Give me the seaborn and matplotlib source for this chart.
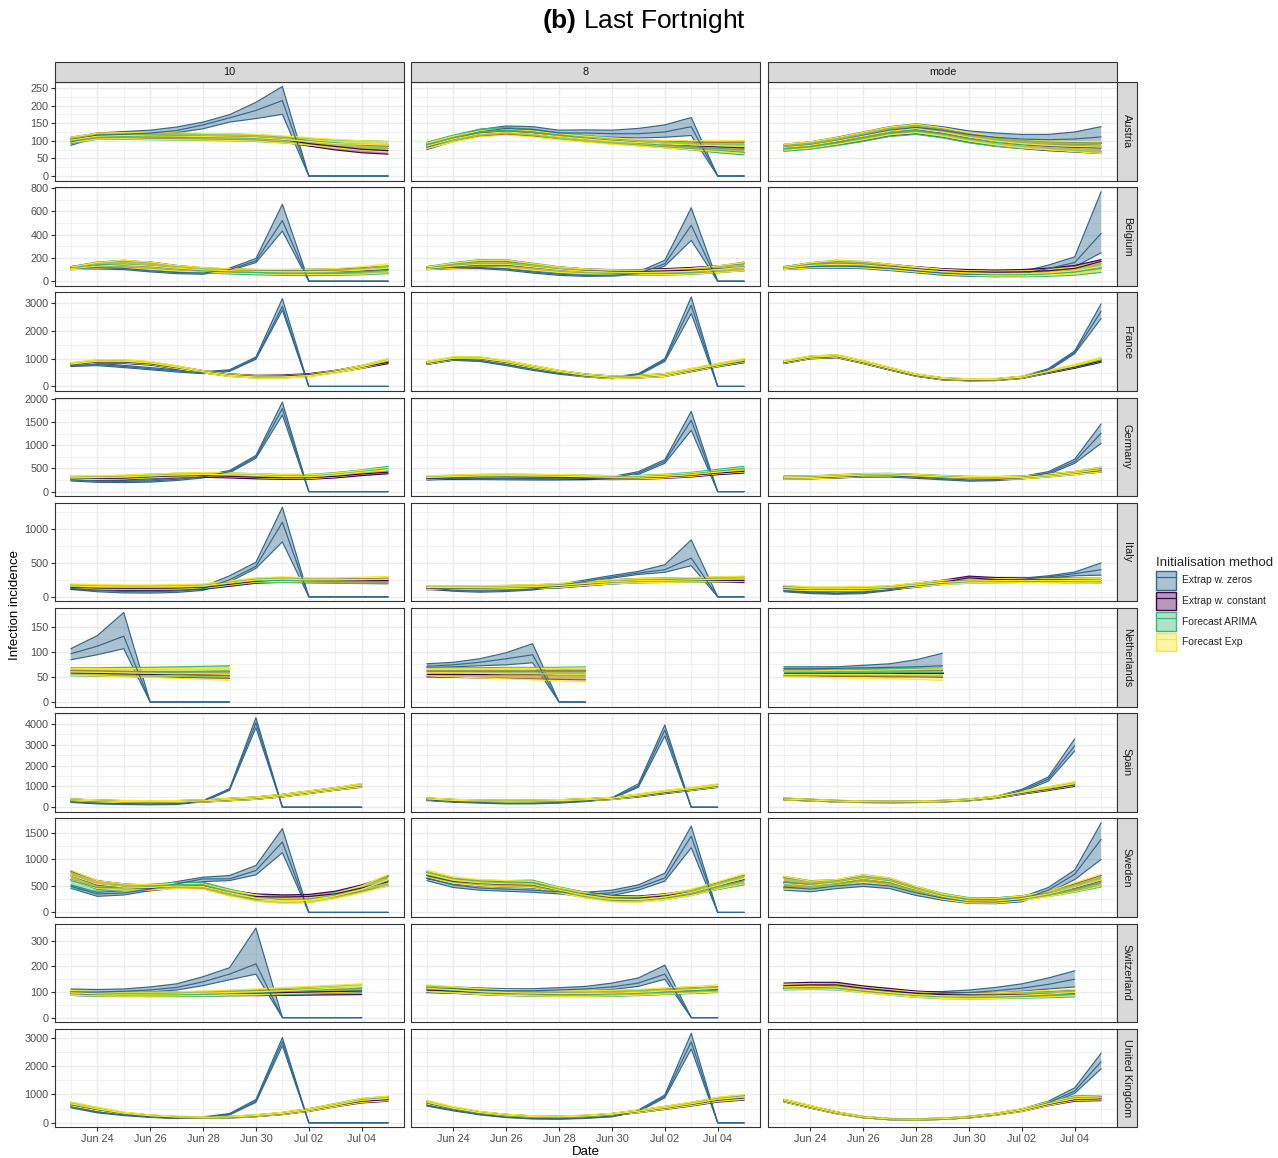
import numpy as np
import pandas as pd
import matplotlib
matplotlib.use("Agg")
import matplotlib.pyplot as plt
import matplotlib.dates as mdates
from matplotlib.ticker import MultipleLocator
from matplotlib.patches import Patch, Rectangle
from matplotlib.lines import Line2D
from matplotlib.colors import to_rgba
import seaborn as sns

# ---------------- data ----------------
DATES = ["2020-06-23", "2020-06-24", "2020-06-25", "2020-06-26", "2020-06-27",
         "2020-06-28", "2020-06-29", "2020-06-30", "2020-07-01", "2020-07-02",
         "2020-07-03", "2020-07-04", "2020-07-05"]
COUNTRIES = ["Austria", "Belgium", "France", "Germany", "Italy", "Netherlands",
             "Spain", "Sweden", "Switzerland", "United Kingdom"]
CODES = ["AT", "BE", "FR", "DE", "IT", "NL", "ES", "SE", "CH", "UK"]
TRUNCS = ["10", "8", "mode"]
TRUNC_CODES = ["T10", "T8", "TM"]
METHODS = ["Extrap w. zeros", "Extrap w. constant", "Forecast ARIMA", "Forecast Exp"]
METHOD_CODES = ["Z", "C", "A", "E"]
COLORS = ["#31688E", "#440154", "#35B779", "#FDE725"]
Y_STEPS = [50, 200, 1000, 500, 500, 50, 1000, 500, 100, 1000]

# Austria
AT_T10_Z_LO = [87,110,112,117,123,134,153,163,175,0,0,0,0]
AT_T10_Z_MD = [97,116,118,122,129,145,165,186,214,0,0,0,0]
AT_T10_Z_HI = [107,122,126,130,139,153,174,209,254,0,0,0,0]
AT_T10_C_LO = [97,107,108,106,105,104,103,101,96,85,74,66,62]
AT_T10_C_MD = [103,114,115,114,113,112,111,109,104,92,84,76,72]
AT_T10_C_HI = [110,121,122,122,121,120,119,117,112,100,94,88,84]
AT_T10_A_LO = [92,104,104,103,102,101,100,98,94,88,84,80,78]
AT_T10_A_MD = [100,112,112,111,110,110,109,107,103,97,93,90,88]
AT_T10_A_HI = [108,120,120,119,118,118,118,116,112,106,102,100,98]
AT_T10_E_LO = [95,105,106,104,103,102,101,99,94,88,80,74,68]
AT_T10_E_MD = [102,113,115,114,113,112,111,109,104,98,92,90,88]
AT_T10_E_HI = [110,122,123,123,122,121,120,118,114,109,104,100,98]
AT_T8_Z_LO = [75,98,118,128,125,115,113,110,108,110,115,0,0]
AT_T8_Z_MD = [82,105,125,135,132,122,122,120,120,125,140,0,0]
AT_T8_Z_HI = [90,112,132,142,140,130,131,130,135,145,166,0,0]
AT_T8_C_LO = [80,99,113,118,113,105,98,92,87,82,77,72,67]
AT_T8_C_MD = [86,106,121,126,121,113,106,100,95,90,86,83,80]
AT_T8_C_HI = [92,112,127,132,127,119,112,107,103,99,97,96,96]
AT_T8_A_LO = [80,100,116,122,117,107,99,92,86,80,74,66,60]
AT_T8_A_MD = [88,108,125,130,125,115,107,100,94,88,83,78,75]
AT_T8_A_HI = [96,116,133,138,133,123,115,108,103,97,93,90,90]
AT_T8_E_LO = [78,97,111,116,111,103,96,90,85,80,75,70,64]
AT_T8_E_MD = [85,105,120,125,120,112,105,99,95,91,88,86,84]
AT_T8_E_HI = [93,113,128,133,128,120,113,108,104,101,100,100,101]
AT_TM_Z_LO = [75,80,92,105,120,128,120,108,98,92,88,88,92]
AT_TM_Z_MD = [82,88,100,115,130,138,130,118,110,105,103,105,111]
AT_TM_Z_HI = [90,97,110,125,140,148,140,128,122,118,118,125,140]
AT_TM_C_LO = [72,78,88,100,114,120,110,96,85,78,72,68,64]
AT_TM_C_MD = [80,86,98,112,126,132,122,108,97,90,85,82,80]
AT_TM_C_HI = [88,95,108,122,136,144,134,120,110,103,98,96,96]
AT_TM_A_LO = [70,76,86,98,112,118,108,94,84,78,74,72,70]
AT_TM_A_MD = [78,84,95,110,124,130,120,106,96,90,86,84,83]
AT_TM_A_HI = [88,95,106,121,136,143,133,119,109,103,99,98,97]
AT_TM_E_LO = [73,79,90,103,117,123,113,99,88,80,74,69,64]
AT_TM_E_MD = [81,87,99,113,127,134,124,110,99,92,87,84,82]
AT_TM_E_HI = [90,97,109,124,139,147,137,123,112,105,100,98,98]

# Belgium
BE_T10_Z_LO = [100,105,100,80,65,60,90,160,430,0,0,0,0]
BE_T10_Z_MD = [110,115,110,90,75,70,100,175,520,0,0,0,0]
BE_T10_Z_HI = [120,125,120,100,85,80,112,195,660,0,0,0,0]
BE_T10_C_LO = [100,115,115,105,90,78,72,68,65,63,62,65,70]
BE_T10_C_MD = [110,135,140,130,110,95,88,85,85,85,85,90,100]
BE_T10_C_HI = [125,160,175,165,135,115,105,100,100,102,105,115,130]
BE_T10_A_LO = [100,115,115,100,85,72,62,55,50,48,50,55,65]
BE_T10_A_MD = [112,140,145,130,108,92,82,75,70,68,70,80,95]
BE_T10_A_HI = [125,165,180,160,130,112,100,95,92,92,95,110,130]
BE_T10_E_LO = [98,110,112,102,88,78,70,65,60,58,58,62,72]
BE_T10_E_MD = [108,130,140,130,112,98,90,85,82,82,85,95,110]
BE_T10_E_HI = [122,160,180,165,135,118,108,102,100,102,108,125,150]
BE_T8_Z_LO = [100,108,108,95,70,50,42,44,55,130,350,0,0]
BE_T8_Z_MD = [110,118,118,105,80,60,50,52,65,150,480,0,0]
BE_T8_Z_HI = [120,128,128,115,90,70,60,62,80,180,630,0,0]
BE_T8_C_LO = [100,112,115,112,95,78,68,62,60,62,68,78,90]
BE_T8_C_MD = [112,130,140,140,120,100,88,82,82,88,95,105,120]
BE_T8_C_HI = [125,150,170,170,145,122,105,100,100,108,118,132,150]
BE_T8_A_LO = [100,115,120,118,95,75,62,55,50,52,58,72,92]
BE_T8_A_MD = [112,135,150,150,125,100,85,75,70,72,80,100,125]
BE_T8_A_HI = [125,160,185,185,155,125,105,95,92,95,105,130,165]
BE_T8_E_LO = [100,112,118,115,95,76,64,58,55,56,62,75,90]
BE_T8_E_MD = [110,130,145,145,122,100,85,78,75,78,85,100,120]
BE_T8_E_HI = [122,155,180,182,150,122,105,98,96,100,110,132,160]
BE_TM_Z_LO = [100,110,112,108,92,72,52,42,40,45,89,123,244]
BE_TM_Z_MD = [110,125,130,125,110,90,70,60,58,62,109,160,410]
BE_TM_Z_HI = [122,145,155,148,130,108,88,78,76,82,138,209,768]
BE_TM_C_LO = [100,118,122,118,105,85,70,62,58,58,65,80,120]
BE_TM_C_MD = [110,135,145,140,125,105,90,82,78,80,90,110,170]
BE_TM_C_HI = [125,155,170,165,145,125,108,100,96,100,112,135,185]
BE_TM_A_LO = [100,118,122,115,98,78,58,45,38,38,42,52,75]
BE_TM_A_MD = [112,140,150,140,120,100,80,65,58,58,65,80,110]
BE_TM_A_HI = [125,160,180,170,145,122,100,88,80,82,92,110,150]
BE_TM_E_LO = [100,115,120,115,100,80,62,50,45,45,50,62,90]
BE_TM_E_MD = [110,135,145,140,122,100,82,70,65,65,72,90,125]
BE_TM_E_HI = [122,158,178,170,145,122,102,90,85,88,98,120,165]

# France
FR_T10_Z_LO = [720,750,680,600,520,460,540,980,2750,0,0,0,0]
FR_T10_Z_MD = [760,790,720,640,560,490,570,1020,2890,0,0,0,0]
FR_T10_Z_HI = [800,830,760,680,600,530,600,1060,3166,0,0,0,0]
FR_T10_C_LO = [740,830,830,770,630,490,370,320,330,380,500,650,820]
FR_T10_C_MD = [790,880,880,820,680,530,410,360,370,420,540,700,870]
FR_T10_C_HI = [840,930,930,870,730,570,450,400,410,460,580,750,920]
FR_T10_A_LO = [750,850,850,790,640,490,360,300,305,355,490,660,870]
FR_T10_A_MD = [800,900,900,840,690,530,400,340,345,395,530,710,930]
FR_T10_A_HI = [850,950,950,890,740,570,440,380,385,435,570,760,990]
FR_T10_E_LO = [760,860,860,800,650,490,360,300,300,350,485,660,880]
FR_T10_E_MD = [810,910,910,850,700,530,400,340,340,390,525,710,940]
FR_T10_E_HI = [860,960,960,900,750,570,440,380,380,430,565,760,1000]
FR_T8_Z_LO = [810,940,900,750,580,440,340,285,400,900,2630,0,0]
FR_T8_Z_MD = [850,980,940,790,620,470,370,310,430,950,2930,0,0]
FR_T8_Z_HI = [890,1020,980,830,660,500,400,335,460,1000,3230,0,0]
FR_T8_C_LO = [790,950,950,820,650,485,355,285,305,360,530,705,855]
FR_T8_C_MD = [840,1000,1000,870,700,530,400,330,350,410,580,760,910]
FR_T8_C_HI = [890,1050,1050,920,750,575,445,375,395,460,630,815,965]
FR_T8_A_LO = [800,960,960,830,650,485,355,285,305,360,540,715,875]
FR_T8_A_MD = [850,1010,1010,880,700,530,400,330,350,410,590,770,930]
FR_T8_A_HI = [900,1060,1060,930,750,575,445,375,395,460,640,825,985]
FR_T8_E_LO = [810,970,970,840,660,495,355,285,305,365,550,725,890]
FR_T8_E_MD = [860,1020,1020,890,710,540,400,330,350,415,600,780,950]
FR_T8_E_HI = [910,1070,1070,940,760,585,445,375,395,465,650,835,1010]
FR_TM_Z_LO = [840,1010,1050,840,600,380,250,215,225,300,560,1180,2450]
FR_TM_Z_MD = [880,1050,1090,880,640,410,280,240,250,330,600,1230,2710]
FR_TM_Z_HI = [920,1090,1130,920,680,440,310,265,275,360,640,1280,2980]
FR_TM_C_LO = [825,995,1035,825,590,365,235,200,210,285,470,655,870]
FR_TM_C_MD = [870,1040,1080,870,630,400,270,230,240,320,510,700,920]
FR_TM_C_HI = [915,1085,1125,915,670,435,305,260,270,355,550,745,970]
FR_TM_A_LO = [835,1005,1045,835,600,375,245,210,220,295,490,685,905]
FR_TM_A_MD = [880,1050,1090,880,640,410,280,240,250,330,530,730,960]
FR_TM_A_HI = [925,1095,1135,925,680,445,315,270,280,365,570,775,1015]
FR_TM_E_LO = [845,1015,1055,845,610,385,250,215,225,300,500,705,945]
FR_TM_E_MD = [890,1060,1100,890,650,420,285,245,255,335,540,750,1000]
FR_TM_E_HI = [935,1105,1145,935,690,455,320,275,285,370,580,795,1055]

# Germany
DE_T10_Z_LO = [230,200,195,205,240,295,405,720,1650,0,0,0,0]
DE_T10_Z_MD = [255,225,220,230,265,320,430,750,1790,0,0,0,0]
DE_T10_Z_HI = [280,250,245,255,290,345,455,780,1930,0,0,0,0]
DE_T10_C_LO = [245,250,255,285,305,310,295,275,265,265,295,345,385]
DE_T10_C_MD = [280,285,290,320,340,345,330,310,300,300,330,380,420]
DE_T10_C_HI = [315,320,325,355,375,380,365,345,335,335,365,415,455]
DE_T10_A_LO = [250,260,270,295,315,325,325,305,290,290,330,390,455]
DE_T10_A_MD = [290,300,310,335,355,365,365,345,330,330,370,430,500]
DE_T10_A_HI = [330,340,350,375,395,405,405,385,370,370,410,470,545]
DE_T10_E_LO = [255,265,275,300,320,330,325,305,285,280,320,380,425]
DE_T10_E_MD = [295,305,315,340,360,370,365,345,325,320,360,420,470]
DE_T10_E_HI = [335,345,355,380,400,410,405,385,365,360,400,460,515]
DE_T8_Z_LO = [255,260,260,255,250,250,255,275,370,610,1320,0,0]
DE_T8_Z_MD = [280,285,285,280,275,275,280,300,400,650,1540,0,0]
DE_T8_Z_HI = [305,310,310,305,300,300,305,325,430,690,1730,0,0]
DE_T8_C_LO = [255,275,285,285,280,275,265,260,265,285,315,365,400]
DE_T8_C_MD = [290,310,320,320,315,310,300,295,300,320,350,400,440]
DE_T8_C_HI = [325,345,355,355,350,345,335,330,335,355,385,435,480]
DE_T8_A_LO = [265,285,300,305,300,295,285,275,280,305,345,400,455]
DE_T8_A_MD = [300,320,335,340,335,330,320,310,315,340,380,440,500]
DE_T8_A_HI = [335,355,370,375,370,365,355,345,350,375,415,480,545]
DE_T8_E_LO = [270,290,305,310,305,297,285,275,275,295,330,385,425]
DE_T8_E_MD = [305,325,340,345,340,332,320,310,310,330,365,420,470]
DE_T8_E_HI = [340,360,375,380,375,367,355,345,345,365,400,455,515]
DE_TM_Z_LO = [280,280,295,315,315,285,255,225,235,275,370,610,1040]
DE_TM_Z_MD = [305,305,320,340,340,310,280,250,260,300,400,650,1260]
DE_TM_Z_HI = [330,330,345,365,365,335,305,275,285,325,430,700,1460]
DE_TM_C_LO = [270,275,295,320,325,305,280,260,260,275,320,370,420]
DE_TM_C_MD = [300,305,325,350,355,335,310,290,290,305,350,400,460]
DE_TM_C_HI = [330,335,355,380,385,365,340,320,320,335,380,430,500]
DE_TM_A_LO = [270,280,305,330,335,315,290,270,265,275,315,365,430]
DE_TM_A_MD = [300,310,335,360,365,345,320,300,295,305,345,400,480]
DE_TM_A_HI = [330,340,365,390,395,375,350,330,325,335,375,435,530]
DE_TM_E_LO = [270,278,300,325,330,310,285,265,262,275,318,368,425]
DE_TM_E_MD = [300,308,330,355,360,340,315,295,292,305,348,402,475]
DE_TM_E_HI = [330,338,360,385,390,370,345,325,322,335,378,436,525]

# Italy
IT_T10_Z_LO = [110,75,58,55,65,95,220,420,810,0,0,0,0]
IT_T10_Z_MD = [125,95,78,75,85,120,250,450,1100,0,0,0,0]
IT_T10_Z_HI = [140,115,100,98,110,150,310,510,1320,0,0,0,0]
IT_T10_C_LO = [110,100,95,95,100,110,155,200,215,210,205,205,205]
IT_T10_C_MD = [140,130,125,125,130,140,185,230,250,240,235,235,240]
IT_T10_C_HI = [170,160,155,155,160,170,215,260,285,270,265,265,275]
IT_T10_A_LO = [120,110,105,105,110,120,170,210,210,205,200,195,190]
IT_T10_A_MD = [150,140,135,135,140,150,200,240,245,235,230,225,225]
IT_T10_A_HI = [180,170,165,165,170,180,230,270,280,265,260,255,260]
IT_T10_E_LO = [130,120,115,115,120,130,175,220,225,220,220,220,220]
IT_T10_E_MD = [160,150,145,145,150,160,205,250,260,250,250,255,260]
IT_T10_E_HI = [190,180,175,175,180,190,235,280,295,280,280,290,300]
IT_T8_Z_LO = [115,82,68,78,100,150,210,275,330,361,459,0,0]
IT_T8_Z_MD = [132,98,83,93,117,166,229,293,351,400,571,0,0]
IT_T8_Z_HI = [150,115,100,110,135,185,250,315,375,473,839,0,0]
IT_T8_C_LO = [105,105,108,112,118,130,160,190,210,215,220,215,210]
IT_T8_C_MD = [130,130,133,138,145,160,190,220,240,245,250,245,240]
IT_T8_C_HI = [155,155,158,165,172,190,220,250,270,275,280,278,275]
IT_T8_A_LO = [110,110,112,116,122,135,165,190,205,210,215,220,225]
IT_T8_A_MD = [135,135,137,141,148,165,195,220,235,240,248,255,262]
IT_T8_A_HI = [160,160,162,168,175,195,225,250,265,272,282,292,300]
IT_T8_E_LO = [112,112,114,118,124,138,168,193,208,213,218,222,228]
IT_T8_E_MD = [137,137,139,143,150,168,198,223,238,243,251,258,266]
IT_T8_E_HI = [162,162,164,170,178,198,228,253,268,275,285,295,305]
IT_TM_Z_LO = [75,48,38,48,92,150,192,222,235,246,278,310,320]
IT_TM_Z_MD = [88,59,47,59,106,165,206,235,247,259,294,341,400]
IT_TM_Z_HI = [100,70,58,70,120,180,220,250,262,272,310,365,500]
IT_TM_C_LO = [100,85,85,90,105,140,185,250,225,225,225,215,210]
IT_TM_C_MD = [125,110,110,115,130,170,215,280,255,255,255,245,240]
IT_TM_C_HI = [155,135,135,140,155,200,245,305,285,285,285,275,272]
IT_TM_A_LO = [105,90,90,95,110,145,180,200,205,210,210,205,205]
IT_TM_A_MD = [135,115,115,120,135,172,210,230,235,240,240,237,238]
IT_TM_A_HI = [165,140,140,145,160,200,240,260,265,270,270,270,272]
IT_TM_E_LO = [108,92,92,97,112,147,182,202,207,212,212,207,207]
IT_TM_E_MD = [138,118,118,123,138,175,213,233,238,243,243,240,240]
IT_TM_E_HI = [170,145,145,150,165,203,243,263,268,273,273,273,275]

# Netherlands
NL_T10_Z_LO = [84,94,106,0,0,0,0]
NL_T10_Z_MD = [96,111,131,0,0,0,0]
NL_T10_Z_HI = [106,132,178,0,0,0,0]
NL_T10_C_LO = [53,52,51,50,49,48,47]
NL_T10_C_MD = [58,57,56,55,55,54,54]
NL_T10_C_HI = [63,62,61,60,60,60,60]
NL_T10_A_LO = [52,52,51,51,51,51,51]
NL_T10_A_MD = [60,60,60,60,60,61,62]
NL_T10_A_HI = [68,68,69,69,70,71,72]
NL_T10_E_LO = [53,52,50,49,47,45,43]
NL_T10_E_MD = [60,59,58,57,56,56,55]
NL_T10_E_HI = [67,67,67,67,67,67,67]
NL_T8_Z_LO = [68,70,72,74,78,0,0]
NL_T8_Z_MD = [71,74,79,86,94,0,0]
NL_T8_Z_HI = [76,79,86,98,116,0,0]
NL_T8_C_LO = [50,49,48,47,46,45,44]
NL_T8_C_MD = [55,55,55,55,55,55,55]
NL_T8_C_HI = [62,62,62,62,62,63,63]
NL_T8_A_LO = [55,55,54,54,53,53,52]
NL_T8_A_MD = [62,62,62,62,62,62,62]
NL_T8_A_HI = [68,68,68,69,69,69,70]
NL_T8_E_LO = [52,50,48,46,44,42,40]
NL_T8_E_MD = [58,58,57,56,56,55,55]
NL_T8_E_HI = [66,66,66,67,67,67,68]
NL_TM_Z_LO = [63,63,63,64,64,65,66]
NL_TM_Z_MD = [66,66,67,68,69,70,72]
NL_TM_Z_HI = [70,70,70,73,76,84,97]
NL_TM_C_LO = [52,52,51,51,50,50,49]
NL_TM_C_MD = [57,57,57,57,57,57,57]
NL_TM_C_HI = [62,62,62,62,62,62,63]
NL_TM_A_LO = [54,54,54,54,53,53,53]
NL_TM_A_MD = [60,60,60,60,60,60,60]
NL_TM_A_HI = [66,66,66,66,67,67,67]
NL_TM_E_LO = [50,49,48,47,46,45,43]
NL_TM_E_MD = [55,55,55,55,55,54,54]
NL_TM_E_HI = [62,62,63,63,64,65,66]

# Spain
ES_T10_Z_LO = [230,160,130,115,130,260,810,3820,0,0,0,0]
ES_T10_Z_MD = [260,190,160,145,160,290,850,4060,0,0,0,0]
ES_T10_Z_HI = [290,220,190,175,190,320,890,4300,0,0,0,0]
ES_T10_C_LO = [290,245,215,205,215,245,310,380,495,655,815,960]
ES_T10_C_MD = [340,295,265,255,265,295,365,435,555,715,875,1040]
ES_T10_C_HI = [390,345,315,305,315,345,420,490,615,775,935,1120]
ES_T10_A_LO = [295,250,220,210,220,250,315,385,500,660,820,970]
ES_T10_A_MD = [345,300,270,260,270,300,370,440,560,720,880,1050]
ES_T10_A_HI = [395,350,320,310,320,350,425,495,620,780,940,1130]
ES_T10_E_LO = [300,255,225,215,225,255,320,390,505,665,825,980]
ES_T10_E_MD = [350,305,275,265,275,305,375,445,565,725,885,1060]
ES_T10_E_HI = [400,355,325,315,325,355,430,500,625,785,945,1140]
ES_T8_Z_LO = [320,240,195,160,160,195,270,400,960,3420,0,0]
ES_T8_Z_MD = [350,270,225,190,190,225,300,430,1020,3710,0,0]
ES_T8_Z_HI = [380,300,255,220,220,255,330,460,1120,3950,0,0]
ES_T8_C_LO = [340,270,240,230,235,255,300,370,490,650,800,950]
ES_T8_C_MD = [390,320,290,280,285,305,350,420,550,710,860,1020]
ES_T8_C_HI = [440,370,340,330,335,355,400,470,610,770,920,1090]
ES_T8_A_LO = [345,275,245,235,240,260,305,375,510,670,810,960]
ES_T8_A_MD = [395,325,295,285,290,310,355,425,570,730,870,1030]
ES_T8_A_HI = [445,375,345,335,340,360,405,475,630,790,930,1100]
ES_T8_E_LO = [350,280,250,240,245,265,310,380,520,690,830,980]
ES_T8_E_MD = [400,330,300,290,295,315,360,430,580,750,890,1050]
ES_T8_E_HI = [450,380,350,340,345,365,410,480,640,810,950,1120]
ES_TM_Z_LO = [360,310,265,235,225,235,265,320,440,740,1250,2700]
ES_TM_Z_MD = [390,340,290,260,250,260,290,350,480,800,1350,2950]
ES_TM_Z_HI = [420,370,320,285,275,285,315,380,520,860,1450,3280]
ES_TM_C_LO = [350,300,255,225,215,225,255,310,420,620,800,1000]
ES_TM_C_MD = [390,340,290,260,250,260,290,350,470,680,870,1080]
ES_TM_C_HI = [430,380,325,295,285,295,325,390,520,740,940,1160]
ES_TM_A_LO = [355,305,260,230,220,230,260,315,430,640,830,1040]
ES_TM_A_MD = [395,345,295,265,255,265,295,355,480,700,900,1120]
ES_TM_A_HI = [435,385,330,300,290,300,330,395,530,760,970,1200]
ES_TM_E_LO = [355,305,260,230,220,230,260,320,440,660,850,1060]
ES_TM_E_MD = [395,345,295,265,255,265,295,360,490,720,920,1140]
ES_TM_E_HI = [435,385,330,300,290,300,330,400,540,780,990,1220]

# Sweden
SE_T10_Z_LO = [456,304,329,411,494,582,601,709,1127,0,0,0,0]
SE_T10_Z_MD = [494,348,367,443,538,633,633,791,1329,0,0,0,0]
SE_T10_Z_HI = [519,380,411,494,582,665,696,886,1582,0,0,0,0]
SE_T10_C_LO = [620,440,420,410,460,450,320,250,250,260,300,400,500]
SE_T10_C_MD = [700,520,480,460,510,500,370,300,290,300,350,460,580]
SE_T10_C_HI = [780,600,540,510,560,550,420,350,330,340,400,520,680]
SE_T10_A_LO = [450,400,420,430,470,470,330,220,180,190,270,380,510]
SE_T10_A_MD = [600,470,470,480,520,520,390,280,230,240,320,440,600]
SE_T10_A_HI = [750,540,520,530,570,570,440,330,280,290,370,500,700]
SE_T10_E_LO = [610,450,420,420,450,440,310,210,170,180,260,370,500]
SE_T10_E_MD = [700,530,480,470,500,490,370,270,220,230,310,430,620]
SE_T10_E_HI = [800,600,540,520,550,540,420,330,270,280,360,500,720]
SE_T8_Z_LO = [600,470,420,400,380,350,300,320,420,590,1220,0,0]
SE_T8_Z_MD = [650,520,460,440,420,390,340,370,470,650,1440,0,0]
SE_T8_Z_HI = [710,570,500,480,460,430,380,420,520,740,1630,0,0]
SE_T8_C_LO = [640,540,500,480,470,370,280,220,230,270,340,440,540]
SE_T8_C_MD = [700,590,550,530,520,420,330,270,270,310,380,500,620]
SE_T8_C_HI = [760,640,600,580,570,470,380,320,310,350,420,560,700]
SE_T8_A_LO = [650,550,510,500,500,380,280,210,200,240,320,430,520]
SE_T8_A_MD = [710,600,560,550,560,430,330,260,250,290,370,490,600]
SE_T8_A_HI = [770,650,610,600,610,480,380,310,300,340,420,550,690]
SE_T8_E_LO = [660,550,500,480,470,370,270,200,190,240,320,440,540]
SE_T8_E_MD = [730,610,560,540,530,420,320,250,240,290,380,510,640]
SE_T8_E_HI = [800,670,620,600,590,470,370,300,290,340,440,580,730]
SE_TM_Z_LO = [420,390,450,490,450,320,230,170,165,200,370,620,1000]
SE_TM_Z_MD = [480,440,500,540,500,370,270,210,200,240,420,720,1380]
SE_TM_Z_HI = [560,500,560,600,560,420,310,250,240,290,470,800,1690]
SE_TM_C_LO = [460,450,510,580,520,380,260,190,190,230,310,400,500]
SE_TM_C_MD = [560,520,560,640,580,430,300,230,230,270,350,460,600]
SE_TM_C_HI = [660,590,610,700,640,480,350,270,270,310,400,540,700]
SE_TM_A_LO = [470,460,520,590,530,390,270,200,195,235,300,380,480]
SE_TM_A_MD = [580,530,570,650,590,440,310,240,235,275,340,440,560]
SE_TM_A_HI = [680,600,620,710,650,490,360,280,275,315,390,510,660]
SE_TM_E_LO = [440,440,500,570,510,370,250,180,175,220,300,390,500]
SE_TM_E_MD = [550,510,560,640,580,430,300,220,215,260,350,470,610]
SE_TM_E_HI = [680,590,620,710,650,490,350,270,265,310,400,560,720]

# Switzerland
CH_T10_Z_LO = [95,93,95,100,108,125,148,170,0,0,0,0]
CH_T10_Z_MD = [100,100,103,108,118,140,170,210,0,0,0,0]
CH_T10_Z_HI = [112,110,112,120,132,160,195,350,0,0,0,0]
CH_T10_C_LO = [87,84,84,84,85,86,86,86,87,88,89,90]
CH_T10_C_MD = [95,92,92,92,93,94,95,96,98,100,102,104]
CH_T10_C_HI = [103,100,100,100,101,102,104,106,109,112,115,118]
CH_T10_A_LO = [87,84,82,82,82,83,85,87,90,93,96,99]
CH_T10_A_MD = [95,92,90,90,90,92,95,98,102,106,110,114]
CH_T10_A_HI = [103,100,98,98,98,101,105,109,114,119,124,129]
CH_T10_E_LO = [88,85,84,84,85,86,88,90,93,96,99,102]
CH_T10_E_MD = [97,93,92,92,93,95,98,101,105,110,115,120]
CH_T10_E_HI = [106,101,100,100,101,104,108,112,117,122,127,132]
CH_T8_Z_LO = [108,104,100,98,98,100,104,110,122,150,0,0]
CH_T8_Z_MD = [115,112,108,105,105,108,112,120,135,170,0,0]
CH_T8_Z_HI = [125,120,116,113,113,117,122,135,155,205,0,0]
CH_T8_C_LO = [98,95,90,87,85,84,84,85,88,92,96,100]
CH_T8_C_MD = [108,104,99,96,94,93,93,95,98,102,106,110]
CH_T8_C_HI = [118,113,108,105,103,102,102,105,108,112,116,120]
CH_T8_A_LO = [100,96,90,86,84,82,82,83,86,90,94,98]
CH_T8_A_MD = [112,107,100,96,94,92,92,93,96,100,104,108]
CH_T8_A_HI = [124,118,110,106,104,102,102,103,106,110,115,120]
CH_T8_E_LO = [102,97,91,87,85,83,83,85,88,92,96,100]
CH_T8_E_MD = [115,109,102,98,96,94,94,96,99,104,109,114]
CH_T8_E_HI = [128,121,113,109,107,105,105,107,110,116,122,128]
CH_TM_Z_LO = [112,114,112,102,94,89,88,90,96,103,112,120]
CH_TM_Z_MD = [118,120,118,108,100,95,95,98,105,115,130,150]
CH_TM_Z_HI = [124,126,124,114,106,101,102,108,118,132,155,183]
CH_TM_C_LO = [115,118,118,106,96,87,82,80,80,82,84,87]
CH_TM_C_MD = [125,128,128,115,105,95,90,88,88,90,92,95]
CH_TM_C_HI = [135,138,138,124,114,104,99,97,97,99,102,106]
CH_TM_A_LO = [108,110,108,98,88,79,74,73,74,76,78,81]
CH_TM_A_MD = [118,120,118,108,98,88,83,82,83,85,88,92]
CH_TM_A_HI = [128,130,128,118,108,98,93,92,93,96,100,105]
CH_TM_E_LO = [110,112,110,98,88,80,75,74,75,78,81,86]
CH_TM_E_MD = [120,122,120,108,98,90,85,84,85,88,92,98]
CH_TM_E_HI = [130,132,130,118,108,100,95,95,97,101,106,112]

# United Kingdom
UK_T10_Z_LO = [530,350,255,190,150,170,275,720,2711,0,0,0,0]
UK_T10_Z_MD = [556,378,278,211,167,189,300,767,2856,0,0,0,0]
UK_T10_Z_HI = [590,405,300,235,185,210,325,820,3000,0,0,0,0]
UK_T10_C_LO = [580,420,290,210,170,160,170,215,290,400,560,700,760]
UK_T10_C_MD = [640,470,325,240,195,185,195,245,325,445,610,760,820]
UK_T10_C_HI = [700,520,360,270,220,210,220,275,360,490,660,820,880]
UK_T10_A_LO = [590,425,295,215,175,165,175,220,295,410,580,740,790]
UK_T10_A_MD = [650,480,330,245,200,190,200,250,330,455,630,800,860]
UK_T10_A_HI = [710,535,365,275,225,215,225,280,365,500,680,860,930]
UK_T10_E_LO = [600,430,300,220,180,170,180,225,300,410,570,720,780]
UK_T10_E_MD = [670,490,340,250,205,195,205,255,335,455,620,790,860]
UK_T10_E_HI = [740,550,380,280,230,220,230,285,370,500,670,860,940]
UK_T8_Z_LO = [590,420,280,185,135,125,155,210,390,880,2600,0,0]
UK_T8_Z_MD = [620,450,300,200,150,140,170,230,420,930,2850,0,0]
UK_T8_Z_HI = [650,480,320,215,165,155,185,250,450,980,3150,0,0]
UK_T8_C_LO = [640,450,310,225,180,170,200,255,355,470,590,730,800]
UK_T8_C_MD = [700,500,350,260,210,200,230,290,400,520,650,800,880]
UK_T8_C_HI = [760,550,390,295,240,230,260,325,445,570,710,870,960]
UK_T8_A_LO = [650,455,315,230,185,175,205,260,360,480,605,750,820]
UK_T8_A_MD = [710,505,355,265,215,205,235,295,405,530,665,820,900]
UK_T8_A_HI = [770,555,395,300,245,235,265,330,450,580,725,890,980]
UK_T8_E_LO = [660,460,320,235,190,180,210,265,365,485,610,760,830]
UK_T8_E_MD = [725,515,360,270,220,210,240,300,410,535,670,830,910]
UK_T8_E_HI = [790,570,400,305,250,240,270,335,455,585,730,900,990]
UK_TM_Z_LO = [740,520,320,180,110,100,120,175,270,410,640,1040,1900]
UK_TM_Z_MD = [780,560,350,200,130,120,140,200,300,450,700,1120,2150]
UK_TM_Z_HI = [820,600,380,220,150,140,160,225,330,490,760,1230,2450]
UK_TM_C_LO = [740,520,320,180,110,100,120,175,270,400,600,760,780]
UK_TM_C_MD = [780,560,350,200,130,120,140,200,300,440,650,820,850]
UK_TM_C_HI = [820,600,380,220,150,140,160,225,330,480,700,880,920]
UK_TM_A_LO = [745,525,322,182,112,102,122,178,275,410,620,820,830]
UK_TM_A_MD = [785,565,352,202,132,122,142,203,305,450,680,880,900]
UK_TM_A_HI = [825,605,382,222,152,142,162,228,335,490,740,950,960]
UK_TM_E_LO = [745,525,322,182,112,102,122,178,272,405,610,790,810]
UK_TM_E_MD = [790,570,355,205,135,125,145,205,305,450,670,850,880]
UK_TM_E_HI = [835,615,388,228,158,148,168,232,338,495,730,910,950]

# ---------------- long table ----------------
rows = []
G = globals()
for cc, country in zip(CODES, COUNTRIES):
    for tc, trunc in zip(TRUNC_CODES, TRUNCS):
        for mc, method in zip(METHOD_CODES, METHODS):
            lo = G[f"{cc}_{tc}_{mc}_LO"]
            md = G[f"{cc}_{tc}_{mc}_MD"]
            hi = G[f"{cc}_{tc}_{mc}_HI"]
            for d, l, m, h in zip(DATES, lo, md, hi):
                rows.append(dict(country=country, trunc=trunc, method=method,
                                 date=d, lo=l, md=m, hi=h))
df = pd.DataFrame(rows)
df["date"] = pd.to_datetime(df["date"])

# ---------------- style ----------------
sns.set_theme(style="whitegrid")
plt.rcParams["font.family"] = ["Liberation Sans", "DejaVu Sans"]
plt.rcParams["mathtext.fontset"] = "custom"
plt.rcParams["mathtext.rm"] = "Liberation Sans"
plt.rcParams["mathtext.bf"] = "Liberation Sans:bold"

W, H = 1278, 1158
fig = plt.figure(figsize=(W / 100, H / 100), dpi=100)
fig.patch.set_facecolor("white")

COL_X = [55, 411, 768]
PW = 349
ROW_TOP0 = 82
ROW_PITCH = 105.2
PH = 98.5

date_nums = mdates.date2num(pd.to_datetime(DATES))
xlim = (date_nums[0] - 0.6, date_nums[-1] + 0.6)

LW = 0.85
for r, country in enumerate(COUNTRIES):
    rdf = df[df.country == country]
    ymax = rdf["hi"].max()
    ylim = (-0.05 * ymax, 1.05 * ymax)
    top = ROW_TOP0 + r * ROW_PITCH
    for c, trunc in enumerate(TRUNCS):
        ax = fig.add_axes([COL_X[c] / W, 1 - (top + PH) / H, PW / W, PH / H])
        pdf = rdf[rdf.trunc == trunc]
        z = 2
        for k, method in enumerate(METHODS):
            sub = pdf[pdf.method == method]
            ax.fill_between(sub["date"], sub["lo"], sub["hi"],
                            facecolor=to_rgba(COLORS[k], 0.4),
                            edgecolor="none", zorder=z)
            sns.lineplot(data=sub, x="date", y="lo", color=COLORS[k], lw=LW,
                         ax=ax, zorder=z + 0.1, estimator=None)
            sns.lineplot(data=sub, x="date", y="hi", color=COLORS[k], lw=LW,
                         ax=ax, zorder=z + 0.1, estimator=None)
            z += 1
        sns.lineplot(data=pdf, x="date", y="md", hue="method", hue_order=METHODS,
                     palette=COLORS, lw=LW, legend=False, ax=ax, zorder=10,
                     estimator=None)
        ax.set_xlim(xlim)
        ax.set_ylim(ylim)
        ax.set_xlabel("")
        ax.set_ylabel("")
        ax.set_facecolor("white")
        for s in ax.spines.values():
            s.set_color("#333333")
            s.set_linewidth(0.8)
            s.set_visible(True)
        ax.xaxis.set_major_locator(mdates.DayLocator(bymonthday=list(range(2, 31, 2))))
        ax.xaxis.set_minor_locator(mdates.DayLocator(bymonthday=list(range(1, 32, 2))))
        ax.xaxis.set_major_formatter(mdates.DateFormatter("%b %d"))
        ax.yaxis.set_major_locator(MultipleLocator(Y_STEPS[r]))
        ax.yaxis.set_minor_locator(MultipleLocator(Y_STEPS[r] / 2))
        ax.grid(which="major", color="#EBEBEB", lw=1.0)
        ax.grid(which="minor", color="#EBEBEB", lw=0.5)
        ax.set_axisbelow(True)
        ax.tick_params(which="major", length=3, width=0.8, color="#333333",
                       labelsize=7.8, labelcolor="#4D4D4D", pad=1.5)
        ax.tick_params(which="minor", length=0)
        ax.tick_params(axis="y", left=(c == 0), labelleft=(c == 0))
        ax.tick_params(axis="x", bottom=(r == len(COUNTRIES) - 1),
                       labelbottom=(r == len(COUNTRIES) - 1))
        # right strip
        if c == 2:
            x0 = COL_X[2] + PW
            fig.add_artist(Rectangle((x0 / W, 1 - (top + PH) / H), 19.5 / W, PH / H,
                                     transform=fig.transFigure, facecolor="#D9D9D9",
                                     edgecolor="#333333", lw=0.8))
            fig.text((x0 + 9.75) / W, 1 - (top + PH / 2) / H, country, rotation=-90,
                     ha="center", va="center", fontsize=7.8, color="#1A1A1A")
        # top strip
        if r == 0:
            fig.add_artist(Rectangle((COL_X[c] / W, 1 - top / H), PW / W, 20.5 / H,
                                     transform=fig.transFigure, facecolor="#D9D9D9",
                                     edgecolor="#333333", lw=0.8))
            fig.text((COL_X[c] + PW / 2) / W, 1 - (top - 10.25) / H, trunc,
                     ha="center", va="center", fontsize=7.8, color="#1A1A1A")

# titles
fig.text(644 / W, 1 - 21 / H, r"$\mathbf{(b)}$ Last Fortnight", ha="center",
         va="center", fontsize=19, color="black")
fig.text(15 / W, 1 - 605 / H, "Infection incidence", rotation=90, ha="center",
         va="center", fontsize=9.5, color="black")
fig.text(586 / W, 1 - 1152 / H, "Date", ha="center", va="center", fontsize=9.5,
         color="black")

# legend
handles = []
for col in COLORS:
    handles.append((Patch(facecolor=to_rgba(col, 0.4), edgecolor=col, lw=1.0),
                    Line2D([0], [0], color=col, lw=LW)))
leg = fig.legend(handles, METHODS, loc="upper left",
                 bbox_to_anchor=(1156 / W, 1 - 557 / H), frameon=False,
                 title="Initialisation method", fontsize=7.4, title_fontsize=9.5,
                 handlelength=1.9, handleheight=2.4, labelspacing=0.2,
                 handletextpad=0.6, borderpad=0.0, borderaxespad=0.0,
                 alignment="left")

fig.savefig("out.png", dpi=100, facecolor="white")
